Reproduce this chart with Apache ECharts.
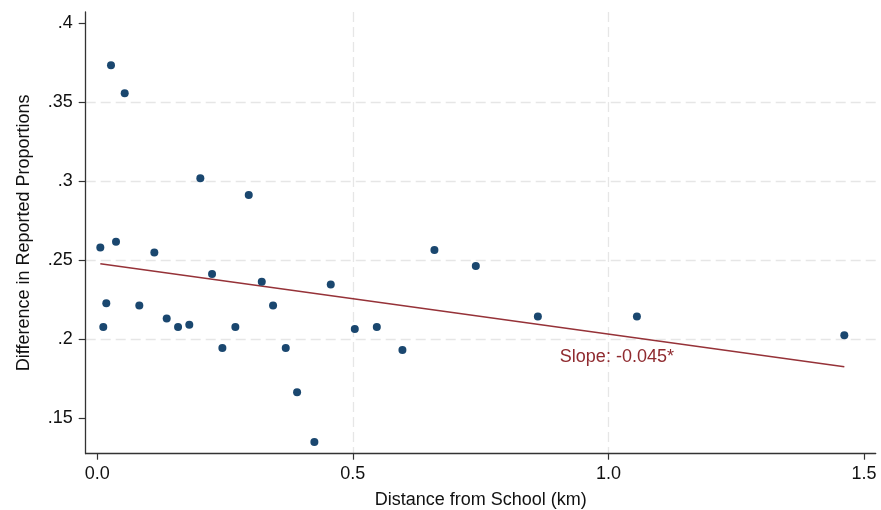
<!DOCTYPE html>
<html>
<head>
<meta charset="utf-8">
<script src="https://cdn.jsdelivr.net/npm/echarts@6/dist/echarts.min.js"></script>
<style>
html,body{margin:0;padding:0;background:#fff;}
#chart{width:881px;height:510px;}
</style>
</head>
<body>
<div id="chart"></div>
<script>
// Data
const distanceKm = [0.0059, 0.0117, 0.0176, 0.0268, 0.0366, 0.0536, 0.0822, 0.1116, 0.1358, 0.158,
  0.180, 0.2016, 0.2245, 0.2447, 0.2701, 0.2963, 0.3218, 0.3439, 0.3687, 0.3909,
  0.4247, 0.4568, 0.5038, 0.5469, 0.597, 0.6596, 0.7406, 0.862, 1.0558, 1.4616];
const propDiff = [0.258, 0.2078, 0.2228, 0.3733, 0.2616, 0.3556, 0.2214, 0.2549, 0.2131, 0.2078,
  0.2091, 0.3018, 0.2413, 0.1944, 0.2078, 0.2913, 0.2363, 0.2214, 0.1944, 0.1664,
  0.135, 0.2346, 0.2065, 0.2078, 0.1932, 0.2565, 0.2464, 0.2144, 0.2144, 0.2025];
const fitX = [0.0059, 1.4616];
const fitY = [0.2478, 0.1826];
const xTicks = [0, 0.5, 1.0, 1.5];
const yTicks = [0.15, 0.2, 0.25, 0.3, 0.35, 0.4];
const noteX = [0.905];
const noteY = [0.1888];
const noteText = ['Slope: -0.045*'];
const xTitle = 'Distance from School (km)';
const yTitle = 'Difference in Reported Proportions';

const FONT = '"Liberation Sans", Arial, Helvetica, sans-serif';
const chart = echarts.init(document.getElementById('chart'), null, {renderer: 'canvas'});

const gridLine = {show: true, showMinLine: false, showMaxLine: false,
  lineStyle: {color: '#e6e6e6', width: 1.3, type: [10, 5]}};

chart.setOption({
  animation: false,
  backgroundColor: '#ffffff',
  grid: {left: 85.7, right: 5.3, top: 12, bottom: 56.3, containLabel: false, outerBoundsMode: 'none'},
  xAxis: {
    type: 'value', min: -0.0227, max: 1.523,
    name: xTitle, nameLocation: 'middle', nameGap: 37,
    nameTextStyle: {fontFamily: FONT, fontSize: 18, color: '#111'},
    axisLine: {show: true, onZero: false, lineStyle: {color: '#333', width: 1.3}},
    axisTick: {show: true, length: 6, customValues: xTicks, lineStyle: {color: '#333', width: 1.2}},
    axisLabel: {customValues: xTicks, fontFamily: FONT, fontSize: 18, color: '#111', margin: 11,
      formatter: v => Number(v).toFixed(1)},
    splitLine: gridLine
  },
  yAxis: {
    type: 'value', min: 0.1276, max: 0.407,
    name: yTitle, nameLocation: 'middle', nameGap: 53,
    nameTextStyle: {fontFamily: FONT, fontSize: 18, color: '#111'},
    axisLine: {show: true, onZero: false, lineStyle: {color: '#333', width: 1.3}},
    axisTick: {show: true, length: 7, customValues: yTicks, lineStyle: {color: '#333', width: 1.2}},
    axisLabel: {customValues: yTicks, fontFamily: FONT, fontSize: 18, color: '#111', margin: 13,
      formatter: v => String(Number(v)).replace(/^0\./, '.')},
    splitLine: gridLine
  },
  series: [
    {
      type: 'line', data: fitX.map((x, i) => [x, fitY[i]]),
      symbol: 'none', lineStyle: {color: '#963238', width: 1.5, opacity: 1}, z: 2
    },
    {
      type: 'scatter', data: distanceKm.map((x, i) => [x, propDiff[i]]),
      symbol: 'circle', symbolSize: 8, itemStyle: {color: '#1a476f', opacity: 1}, z: 3
    },
    {
      type: 'scatter', data: noteX.map((x, i) => [x, noteY[i]]),
      symbolSize: 0, silent: true, z: 4, itemStyle: {opacity: 1},
      label: {show: true, position: 'right', distance: 0, formatter: p => noteText[p.dataIndex],
        fontFamily: FONT, fontSize: 18, color: '#8f2a2f', opacity: 1}
    }
  ]
});
</script>
</body>
</html>
